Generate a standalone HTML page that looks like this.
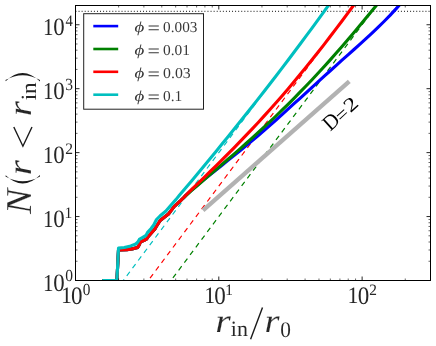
<!DOCTYPE html>
<html><head><meta charset="utf-8"><title>N(r&lt;r_in)</title>
<style>
html,body{margin:0;padding:0;background:#fff;}
body{width:436px;height:346px;overflow:hidden;position:relative;font-family:"Liberation Serif",serif;}
svg text{font-family:"Liberation Serif",serif;text-rendering:geometricPrecision;}
svg{will-change:transform;}
</style></head><body>
<svg width="436" height="346" viewBox="0 0 436 346" style="position:absolute;left:0;top:0">
<rect x="0" y="0" width="436" height="346" fill="#fff"/>
<defs><clipPath id="c"><rect x="75.5" y="5.5" width="355.0" height="275.0"/></clipPath></defs>
<g clip-path="url(#c)" fill="none" stroke-linejoin="round">
<line x1="75.5" y1="11.3" x2="430.5" y2="11.3" stroke="#000" stroke-width="1" stroke-dasharray="0.95,2.12"/>
<line x1="171.00" y1="280.5" x2="378.0" y2="3.4" stroke="#008000" stroke-width="1.2" stroke-dasharray="5.1,4.47" stroke-dashoffset="6.4"/>
<line x1="148.30" y1="280.5" x2="356.0" y2="2.5" stroke="#ff0000" stroke-width="1.2" stroke-dasharray="5.1,4.47" stroke-dashoffset="6.67"/>
<line x1="123.30" y1="280.5" x2="331.0" y2="2.5" stroke="#00bfbf" stroke-width="1.2" stroke-dasharray="5.1,4.47" stroke-dashoffset="3.75"/>
<line x1="203" y1="210.3" x2="349.3" y2="81.3" stroke="#b2b2b2" stroke-width="4.3"/>
<polyline points="102.3,280.5 116.9,280.5 118.5,250.0 119.6,250.0 127.0,249.6 133.5,248.6 137.7,247.4 139.3,244.7 140.5,241.9 143.7,240.5 146.5,239.1 148.3,236.4 152.0,232.2 155.0,228.9 156.0,227.0 160.2,220.5 166.2,215.8 168.5,214.0 174.1,206.6 180.6,200.6 184.3,197.0 186.0,195.1 192.0,189.7 198.0,184.6 204.0,179.6 210.0,174.8 216.0,170.0 222.0,165.2 228.0,160.4 234.0,155.6 240.0,150.7 246.0,145.8 252.0,140.8 258.0,135.7 264.0,130.5 270.0,125.3 276.0,120.0 282.0,114.6 288.0,109.2 294.0,103.7 300.0,98.3 306.0,92.8 312.0,87.3 318.0,81.9 324.0,76.4 330.0,71.0 336.0,65.6 342.0,60.2 348.0,54.9 354.0,49.5 360.0,44.1 366.0,38.6 372.0,33.1 378.0,27.4 384.0,21.5 390.0,15.4 396.0,8.9 402.0,2.1 403.8,-0.0" stroke="#0000ff" stroke-width="3.1"/>
<polyline points="102.3,280.5 116.9,280.5 118.5,250.0 119.6,250.0 127.0,249.6 133.5,248.6 137.7,247.4 139.3,244.7 140.5,241.9 143.7,240.5 146.5,239.1 148.3,236.4 152.0,232.2 155.0,228.9 156.0,227.0 160.2,220.5 166.2,215.8 168.5,214.0 174.1,206.6 180.6,200.6 184.3,197.0 186.0,195.5 192.0,190.2 198.0,185.0 204.0,179.9 210.0,174.7 216.0,169.6 222.0,164.4 228.0,159.3 234.0,154.1 240.0,148.8 246.0,143.5 252.0,138.2 258.0,132.7 264.0,127.2 270.0,121.7 276.0,116.0 282.0,110.2 288.0,104.3 294.0,98.3 300.0,92.2 306.0,86.0 312.0,79.7 318.0,73.3 324.0,66.7 330.0,60.1 336.0,53.3 342.0,46.5 348.0,39.5 354.0,32.5 360.0,25.3 366.0,18.1 372.0,10.8 378.0,3.4 380.0,1.0" stroke="#008000" stroke-width="3.1"/>
<polyline points="102.3,280.5 116.9,280.5 118.5,250.0 119.6,250.0 127.0,249.6 133.5,248.6 137.7,247.4 139.3,244.7 140.5,241.9 143.7,240.5 146.5,239.1 148.3,236.4 152.0,232.2 155.0,228.9 156.0,227.0 160.2,220.5 166.2,215.8 168.5,214.0 174.1,206.6 180.6,200.6 184.3,197.0 186.0,195.0 192.0,189.2 198.0,183.4 204.0,177.6 210.0,171.7 216.0,165.8 222.0,159.9 228.0,153.9 234.0,147.8 240.0,141.6 246.0,135.4 252.0,129.1 258.0,122.7 264.0,116.1 270.0,109.5 276.0,102.8 282.0,95.9 288.0,88.9 294.0,81.8 300.0,74.6 306.0,67.3 312.0,59.8 318.0,52.3 324.0,44.6 330.0,36.8 336.0,28.9 342.0,21.0 348.0,12.9 354.0,4.8 357.1,0.5" stroke="#ff0000" stroke-width="3.1"/>
<polyline points="102.3,280.5 116.9,280.5 118.5,248.1 124.3,247.5 130.7,245.9 135.8,244.0 137.7,242.2 139.3,239.4 142.8,237.3 146.0,235.4 147.4,232.6 151.1,228.5 153.9,224.8 156.5,219.5 160.2,215.8 165.7,211.2 171.3,204.7 175.9,199.6 179.6,195.0 186.0,187.5 192.0,180.4 198.0,173.2 204.0,166.0 210.0,158.7 216.0,151.4 222.0,144.1 228.0,136.7 234.0,129.3 240.0,121.8 246.0,114.3 252.0,106.7 258.0,99.1 264.0,91.5 270.0,83.7 276.0,76.0 282.0,68.1 288.0,60.2 294.0,52.3 300.0,44.3 306.0,36.2 312.0,28.1 318.0,19.9 324.0,11.6 330.0,3.2 332.0,0.4" stroke="#00bfbf" stroke-width="3.1"/>
</g>
<path d="M75.50,280.5v-4M75.50,5.5v4M218.81,280.5v-4M218.81,5.5v4M362.12,280.5v-4M362.12,5.5v4M75.5,280.50h4M430.5,280.50h-4M75.5,216.56h4M430.5,216.56h-4M75.5,152.62h4M430.5,152.62h-4M75.5,88.68h4M430.5,88.68h-4M75.5,24.74h4M430.5,24.74h-4" stroke="#000" stroke-width="0.85" fill="none"/>
<path d="M118.64,280.5v-2M118.64,5.5v2M143.88,280.5v-2M143.88,5.5v2M161.78,280.5v-2M161.78,5.5v2M175.67,280.5v-2M175.67,5.5v2M187.02,280.5v-2M187.02,5.5v2M196.61,280.5v-2M196.61,5.5v2M204.92,280.5v-2M204.92,5.5v2M212.25,280.5v-2M212.25,5.5v2M261.95,280.5v-2M261.95,5.5v2M287.19,280.5v-2M287.19,5.5v2M305.09,280.5v-2M305.09,5.5v2M318.98,280.5v-2M318.98,5.5v2M330.33,280.5v-2M330.33,5.5v2M339.92,280.5v-2M339.92,5.5v2M348.23,280.5v-2M348.23,5.5v2M355.56,280.5v-2M355.56,5.5v2M405.26,280.5v-2M405.26,5.5v2M430.50,280.5v-2M430.50,5.5v2M75.5,261.25h2M430.5,261.25h-2M75.5,249.99h2M430.5,249.99h-2M75.5,242.00h2M430.5,242.00h-2M75.5,235.81h2M430.5,235.81h-2M75.5,230.75h2M430.5,230.75h-2M75.5,226.46h2M430.5,226.46h-2M75.5,222.76h2M430.5,222.76h-2M75.5,219.49h2M430.5,219.49h-2M75.5,197.31h2M430.5,197.31h-2M75.5,186.05h2M430.5,186.05h-2M75.5,178.06h2M430.5,178.06h-2M75.5,171.87h2M430.5,171.87h-2M75.5,166.81h2M430.5,166.81h-2M75.5,162.52h2M430.5,162.52h-2M75.5,158.82h2M430.5,158.82h-2M75.5,155.55h2M430.5,155.55h-2M75.5,133.37h2M430.5,133.37h-2M75.5,122.11h2M430.5,122.11h-2M75.5,114.12h2M430.5,114.12h-2M75.5,107.93h2M430.5,107.93h-2M75.5,102.87h2M430.5,102.87h-2M75.5,98.58h2M430.5,98.58h-2M75.5,94.88h2M430.5,94.88h-2M75.5,91.61h2M430.5,91.61h-2M75.5,69.43h2M430.5,69.43h-2M75.5,58.17h2M430.5,58.17h-2M75.5,50.18h2M430.5,50.18h-2M75.5,43.99h2M430.5,43.99h-2M75.5,38.93h2M430.5,38.93h-2M75.5,34.64h2M430.5,34.64h-2M75.5,30.94h2M430.5,30.94h-2M75.5,27.67h2M430.5,27.67h-2M75.5,5.49h2M430.5,5.49h-2" stroke="#000" stroke-width="0.6" fill="none"/>
<rect x="75.5" y="5.5" width="355.0" height="275.0" fill="none" stroke="#000" stroke-width="1"/>
<rect x="83.7" y="13.7" width="119.8" height="95.5" fill="#fff" stroke="#222" stroke-width="1"/>
<line x1="93.3" y1="26.1" x2="118.2" y2="26.1" stroke="#0000ff" stroke-width="2.6"/>
<text transform="translate(134.48,32.27) scale(0.1884,0.1521)" font-size="100" fill="#383838" font-style="italic">ϕ</text>
<text transform="translate(147.50,34.12) scale(0.2194,0.1840)" font-size="100" fill="#383838">=</text>
<text transform="translate(163.03,32.37) scale(0.1528,0.1515)" font-size="100" fill="#383838">0.003</text>
<line x1="93.3" y1="49.0" x2="118.2" y2="49.0" stroke="#008000" stroke-width="2.6"/>
<text transform="translate(134.48,55.14) scale(0.1884,0.1521)" font-size="100" fill="#383838" font-style="italic">ϕ</text>
<text transform="translate(147.50,56.99) scale(0.2194,0.1840)" font-size="100" fill="#383838">=</text>
<text transform="translate(163.02,55.24) scale(0.1543,0.1515)" font-size="100" fill="#383838">0.01</text>
<line x1="93.3" y1="71.8" x2="118.2" y2="71.8" stroke="#ff0000" stroke-width="2.6"/>
<text transform="translate(134.48,78.01) scale(0.1884,0.1521)" font-size="100" fill="#383838" font-style="italic">ϕ</text>
<text transform="translate(147.50,79.86) scale(0.2194,0.1840)" font-size="100" fill="#383838">=</text>
<text transform="translate(163.01,78.11) scale(0.1584,0.1515)" font-size="100" fill="#383838">0.03</text>
<line x1="93.3" y1="94.7" x2="118.2" y2="94.7" stroke="#00bfbf" stroke-width="2.6"/>
<text transform="translate(134.48,100.88) scale(0.1884,0.1521)" font-size="100" fill="#383838" font-style="italic">ϕ</text>
<text transform="translate(147.50,102.73) scale(0.2194,0.1840)" font-size="100" fill="#383838">=</text>
<text transform="translate(163.02,100.98) scale(0.1544,0.1515)" font-size="100" fill="#383838">0.1</text>
<text transform="translate(43.06,290.50) scale(0.2099,0.2424)" font-size="100" fill="#262626">1</text>
<text transform="translate(53.24,290.75) scale(0.2282,0.2504)" font-size="100" fill="#262626">0</text>
<text transform="translate(65.32,281.43) scale(0.1553,0.1704)" font-size="100" fill="#262626">0</text>
<text transform="translate(43.06,226.56) scale(0.2099,0.2424)" font-size="100" fill="#262626">1</text>
<text transform="translate(53.24,226.81) scale(0.2282,0.2504)" font-size="100" fill="#262626">0</text>
<text transform="translate(64.54,217.66) scale(0.1553,0.1606)" font-size="100" fill="#262626">1</text>
<text transform="translate(43.06,162.62) scale(0.2099,0.2424)" font-size="100" fill="#262626">1</text>
<text transform="translate(53.24,162.87) scale(0.2282,0.2504)" font-size="100" fill="#262626">0</text>
<text transform="translate(65.24,153.72) scale(0.1553,0.1600)" font-size="100" fill="#262626">2</text>
<text transform="translate(43.06,98.68) scale(0.2099,0.2424)" font-size="100" fill="#262626">1</text>
<text transform="translate(53.24,98.93) scale(0.2282,0.2504)" font-size="100" fill="#262626">0</text>
<text transform="translate(65.16,89.61) scale(0.1553,0.1710)" font-size="100" fill="#262626">3</text>
<text transform="translate(43.06,34.74) scale(0.2099,0.2424)" font-size="100" fill="#262626">1</text>
<text transform="translate(53.24,34.99) scale(0.2282,0.2504)" font-size="100" fill="#262626">0</text>
<text transform="translate(65.61,25.84) scale(0.1460,0.1612)" font-size="100" fill="#262626">4</text>
<text transform="translate(60.99,303.20) scale(0.2184,0.2364)" font-size="100" fill="#262626">1</text>
<text transform="translate(71.04,303.75) scale(0.2306,0.2533)" font-size="100" fill="#262626">0</text>
<text transform="translate(82.73,294.63) scale(0.1529,0.1689)" font-size="100" fill="#262626">0</text>
<text transform="translate(204.30,303.20) scale(0.2184,0.2364)" font-size="100" fill="#262626">1</text>
<text transform="translate(214.35,303.75) scale(0.2306,0.2533)" font-size="100" fill="#262626">0</text>
<text transform="translate(225.27,294.60) scale(0.1529,0.1591)" font-size="100" fill="#262626">1</text>
<text transform="translate(347.61,303.20) scale(0.2184,0.2364)" font-size="100" fill="#262626">1</text>
<text transform="translate(357.66,303.75) scale(0.2306,0.2533)" font-size="100" fill="#262626">0</text>
<text transform="translate(369.27,294.60) scale(0.1529,0.1585)" font-size="100" fill="#262626">2</text>
<text transform="translate(215.31,332.10) scale(0.3972,0.3319)" font-size="100" fill="#262626" font-style="italic" stroke="#fff" stroke-width="0.45" vector-effect="non-scaling-stroke">r</text>
<text transform="translate(230.86,336.40) scale(0.2195,0.2189)" font-size="100" fill="#262626" stroke="#fff" stroke-width="0.2" vector-effect="non-scaling-stroke">in</text>
<line x1="250.6" y1="339.2" x2="262.5" y2="307.4" stroke="#1a1a1a" stroke-width="1.45"/>
<text transform="translate(264.56,332.10) scale(0.3858,0.3319)" font-size="100" fill="#262626" font-style="italic" stroke="#fff" stroke-width="0.45" vector-effect="non-scaling-stroke">r</text>
<text transform="translate(280.30,337.08) scale(0.2141,0.2237)" font-size="100" fill="#262626" stroke="#fff" stroke-width="0.2" vector-effect="non-scaling-stroke">0</text>
<g transform="translate(0,215.4) rotate(-90)">
<text transform="translate(1.28,31.30) scale(0.3778,0.3649)" font-size="100" fill="#262626" font-style="italic" stroke="#fff" stroke-width="0.45" vector-effect="non-scaling-stroke">N</text>
<path d="M40.1,5.7 Q23.4,22.75 40.4,40.0 L39.0,40.0 Q29.4,22.75 39.0,5.5 Z" fill="#1a1a1a"/>
<text transform="translate(40.25,31.30) scale(0.3887,0.3362)" font-size="100" fill="#262626" font-style="italic" stroke="#fff" stroke-width="0.45" vector-effect="non-scaling-stroke">r</text>
<path d="M88.4,13.8 L69.2,22.9 L88.4,32.0" fill="none" stroke="#1a1a1a" stroke-width="1.4"/>
<text transform="translate(99.03,31.10) scale(0.3915,0.3319)" font-size="100" fill="#262626" font-style="italic" stroke="#fff" stroke-width="0.45" vector-effect="non-scaling-stroke">r</text>
<text transform="translate(115.04,36.10) scale(0.2316,0.2174)" font-size="100" fill="#262626" stroke="#fff" stroke-width="0.2" vector-effect="non-scaling-stroke">in</text>
<path d="M134.2,5.7 Q150.9,22.75 133.9,40.0 L135.3,40.0 Q144.9,22.75 135.3,5.5 Z" fill="#1a1a1a"/>
</g>
<g transform="translate(330.9,131.2) rotate(-42.5)">
<text transform="translate(-0.87,-0.05) scale(0.2061,0.2160)" font-size="100" fill="#000">D</text>
<text transform="translate(13.55,1.65) scale(0.2108,0.2000)" font-size="100" fill="#000">=</text>
<text transform="translate(26.54,0.00) scale(0.2484,0.1962)" font-size="100" fill="#000">2</text>
</g>
</svg>
</body></html>
